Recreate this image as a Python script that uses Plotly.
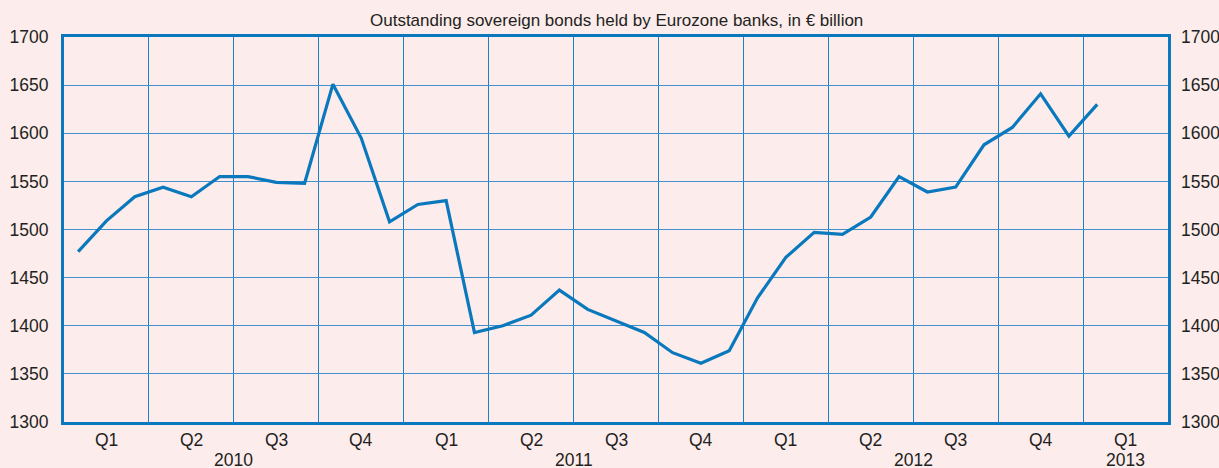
import plotly.graph_objects as go

# Monthly holdings, Jan 2010 .. Jan 2013 (EUR bn)
months = list(range(37))
holdings = [
    1477, 1509, 1534, 1544, 1534, 1555, 1555, 1549, 1548, 1651, 1595, 1508,   # 2010
    1526, 1530, 1393, 1400, 1411, 1437, 1417, 1405, 1393, 1372, 1361, 1374,   # 2011
    1429, 1471, 1497, 1495, 1513, 1555, 1539, 1544, 1588, 1606, 1641, 1597,   # 2012
    1630,                                                                     # 2013
]
quarter_labels = ["Q1", "Q2", "Q3", "Q4"] * 3 + ["Q1"]
year_labels = ["2010", "2011", "2012", "2013"]
year_centres = [6, 18, 30, 37.5]          # in month units along x
y_ticks = [1300, 1350, 1400, 1450, 1500, 1550, 1600, 1650, 1700]

LINE = "#0a78bd"
GRID = "#1f7fc4"
BG = "#fcecec"
TXT = "#231f20"
FONT = "Liberation Sans, Arial, sans-serif"

x_mid = [m + 0.5 for m in months]

fig = go.Figure()
fig.add_trace(go.Scatter(x=x_mid, y=holdings, mode="lines",
                         line=dict(color=LINE, width=3.2), hoverinfo="skip",
                         showlegend=False))
# copy on the right-hand axis so its tick labels render
fig.add_trace(go.Scatter(x=x_mid, y=holdings, mode="lines", yaxis="y2",
                         line=dict(color="rgba(0,0,0,0)", width=0),
                         hoverinfo="skip", showlegend=False))

boundaries = list(range(0, 40, 3))
fig.update_layout(
    width=1219, height=468,
    margin=dict(l=64, r=51, t=37, b=46),
    paper_bgcolor=BG, plot_bgcolor=BG,
    font=dict(family=FONT, color=TXT, size=17.5),
    xaxis=dict(range=[0, 39], tickvals=boundaries, ticktext=[""] * len(boundaries),
               showgrid=True, gridcolor=GRID, gridwidth=1,
               showline=True, linecolor=LINE, linewidth=3, mirror=True,
               zeroline=False, ticks="", automargin=False),
    yaxis=dict(range=[1300, 1700], tickvals=y_ticks,
               showgrid=True, gridcolor="#3f91cc", gridwidth=1.4,
               showline=True, linecolor=LINE, linewidth=3, mirror=True,
               zeroline=False, ticks="", ticklabelstandoff=9, automargin=False),
    yaxis2=dict(range=[1300, 1700], tickvals=y_ticks, overlaying="y", side="right",
                showgrid=False, zeroline=False, ticks="", ticklabelstandoff=12,
                automargin=False),
)

annotations = [dict(text="Outstanding sovereign bonds held by Eurozone banks, in € billion",
                    xref="paper", yref="paper", x=0.5, y=1, yshift=5,
                    xanchor="center", yanchor="bottom", showarrow=False,
                    font=dict(size=17, color=TXT))]
for i, q in enumerate(quarter_labels):
    annotations.append(dict(text=q, x=3 * i + 1.5, xref="x", y=0, yref="paper",
                            yshift=-6, xanchor="center", yanchor="top", showarrow=False))
for yl, xc in zip(year_labels, year_centres):
    annotations.append(dict(text=yl, x=xc, xref="x", y=0, yref="paper",
                            yshift=-26, xanchor="center", yanchor="top", showarrow=False))
fig.update_layout(annotations=annotations)

fig.write_html("out.html")
